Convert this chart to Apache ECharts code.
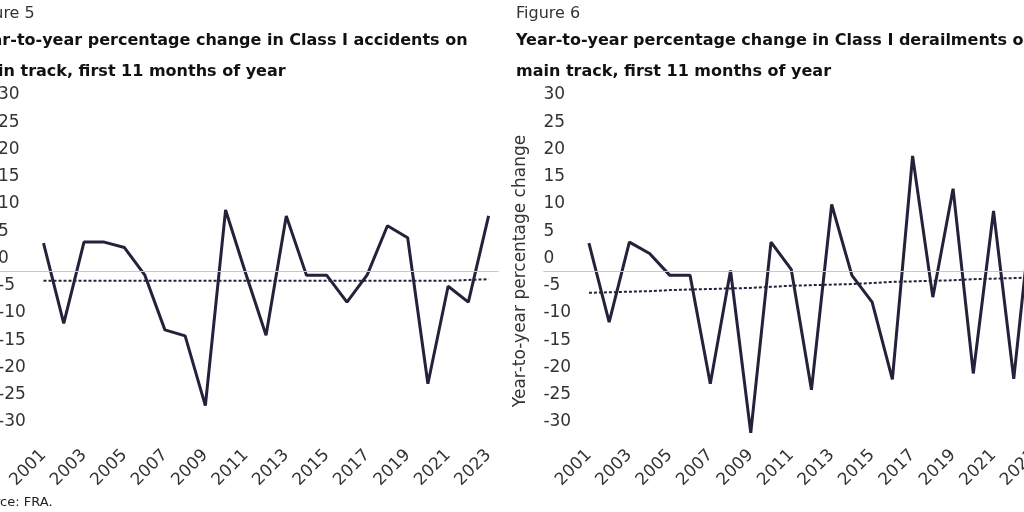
<!DOCTYPE html>
<html><head><meta charset="utf-8">
<script src="https://cdn.jsdelivr.net/npm/echarts@6/dist/echarts.min.js"></script>
<style>
html,body{margin:0;padding:0;width:1024px;height:512px;overflow:hidden;background:#fff}
#chart{position:absolute;left:-60px;top:0;width:1160px;height:512px}
</style>
</head><body><div id="chart"></div>
<script>
const years = [2001,2002,2003,2004,2005,2006,2007,2008,2009,2010,2011,2012,2013,2014,2015,2016,2017,2018,2019,2020,2021,2022,2023];
const tickYears = [2001,2003,2005,2007,2009,2011,2013,2015,2017,2019,2021,2023];
const accidentsChange = [5.1,-9.6,5.3,5.3,4.3,-0.7,-10.8,-11.9,-24.7,11.2,-0.5,-11.8,10.1,-0.8,-0.8,-5.7,-0.7,8.3,6.1,-20.7,-2.8,-5.7,10.1];
const accidentsTrend = [-1.8,-1.8,-1.8,-1.8,-1.8,-1.8,-1.8,-1.8,-1.8,-1.8,-1.8,-1.8,-1.8,-1.8,-1.8,-1.8,-1.8,-1.8,-1.8,-1.8,-1.8,-1.65,-1.5];
const derailmentsChange = [5.1,-9.4,5.3,3.2,-0.8,-0.8,-20.7,0.1,-29.7,5.3,0.3,-21.8,12.2,-0.8,-5.7,-19.9,21.1,-4.8,15.1,-18.8,11.0,-19.8,15.0];
const derailmentsTrend = [-4.0,-3.9,-3.8,-3.7,-3.5,-3.4,-3.3,-3.2,-3.1,-2.9,-2.7,-2.6,-2.5,-2.4,-2.2,-2.0,-1.9,-1.8,-1.7,-1.5,-1.4,-1.3,-1.2];

const FONT = 'DejaVu Sans';
const LINE = '#24213b';
const pairs = (arr) => years.map((y, i) => [y, arr[i]]);

const panels = [
  {x: 58, tx: 30.6, fig: 'Figure 5', title: 'Year-to-year percentage change in Class I accidents on\nmain track, first 11 months of year', main: accidentsChange, trend: accidentsTrend},
  {x: 603.4, tx: 576, fig: 'Figure 6', title: 'Year-to-year percentage change in Class I derailments on\nmain track, first 11 months of year', main: derailmentsChange, trend: derailmentsTrend}
];

const option = {
  animation: false,
  backgroundColor: '#fff',
  title: [],
  grid: [], xAxis: [], yAxis: [], series: []
};

panels.forEach((p, i) => {
  option.title.push({text: p.fig, left: p.tx, top: 5.5, padding: 0,
    textStyle: {fontFamily: FONT, fontSize: 16, fontWeight: 'normal', color: '#333'}});
  option.title.push({text: p.title, left: p.tx, top: 25, padding: 0,
    textStyle: {fontFamily: FONT, fontSize: 16, fontWeight: 'bold', color: '#111', lineHeight: 31}});
  option.grid.push({left: p.x, top: 107.5, width: 500.7, height: 327, containLabel: false});
  option.xAxis.push({type: 'value', gridIndex: i, min: 1998.75, max: 2023.5,
    axisLine: {show: false}, axisTick: {show: false}, splitLine: {show: false},
    axisLabel: {customValues: tickYears, rotate: 45, margin: 18, fontFamily: FONT, fontSize: 17, color: '#333',
      formatter: v => String(v)}});
  option.yAxis.push({type: 'value', gridIndex: i, min: -30, max: 30, interval: 5,
    name: 'Year-to-year percentage change',
    nameLocation: 'middle', nameGap: 14, nameRotate: 90,
    nameTextStyle: {fontFamily: FONT, fontSize: 17, color: '#333'},
    axisLine: {show: false}, axisTick: {show: false}, splitLine: {show: false},
    axisLabel: {inside: true, margin: 0, align: 'left', verticalAlign: 'bottom', lineHeight: 25,
      fontFamily: FONT, fontSize: 17, color: '#333'}});
  option.series.push({type: 'line', xAxisIndex: i, yAxisIndex: i, data: pairs(p.main),
    symbol: 'none', lineStyle: {color: LINE, width: 3}, z: 3,
    markLine: {silent: true, symbol: ['none', 'none'], label: {show: false},
      lineStyle: {color: '#c8c8c8', width: 1.2, type: 'solid'}, data: [{yAxis: 0}]}});
  option.series.push({type: 'line', xAxisIndex: i, yAxisIndex: i, data: pairs(p.trend),
    symbol: 'none', lineStyle: {color: LINE, width: 2, type: [3, 2]}, z: 4});
});

option.title.push({text: 'Source: FRA.', left: 30.6, top: 496, padding: 0,
  textStyle: {fontFamily: FONT, fontSize: 13, fontWeight: 'normal', color: '#222'}});

const chart = echarts.init(document.getElementById('chart'), null, {renderer: 'canvas'});
chart.setOption(option);
</script>
</body></html>
